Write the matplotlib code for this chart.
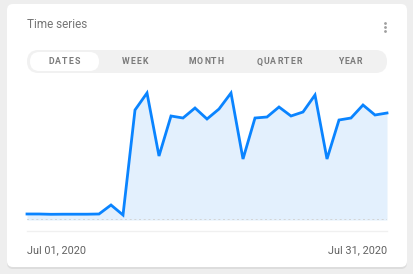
import matplotlib
matplotlib.use("Agg")
import matplotlib.pyplot as plt
from matplotlib.patches import FancyBboxPatch

# daily values for July 2020
days = list(range(1, 32))
values = [6, 6, 5.7, 5.8, 5.8, 5.8, 6, 15, 5, 110, 127, 64, 104, 102, 112, 101,
          111, 127, 61, 102, 103, 113, 104, 108, 125, 61, 100, 102, 115, 105, 107]
tabs = ["DATES", "WEEK", "MONTH", "QUARTER", "YEAR"]
selected_tab = "DATES"
title = "Time series"
start_label = "Jul 01, 2020"
end_label = "Jul 31, 2020"

W, H = 414, 274
plt.rcParams["font.family"] = ["Roboto", "DejaVu Sans"]

fig = plt.figure(figsize=(W / 100, H / 100), dpi=100)
fig.patch.set_facecolor("#eeeeee")

# overlay in pixel coordinates for the card chrome
bg = fig.add_axes([0, 0, 1, 1])
bg.set_xlim(0, W)
bg.set_ylim(H, 0)
bg.axis("off")

# card shadow + card
bg.add_patch(FancyBboxPatch((7, 5), 400, 264, boxstyle="round,pad=0,rounding_size=6",
                            fc="#dddddd", ec="none"))
bg.add_patch(FancyBboxPatch((7, 4), 400, 263, boxstyle="round,pad=0,rounding_size=6",
                            fc="white", ec="none"))

bg.text(27, 25, title, fontsize=8.5, color="#757575", va="center", ha="left")
for yy in (23, 27, 31):
    bg.plot(385, yy, marker="o", ms=2, color="#9e9e9e", mec="none")

# segmented control
bg.add_patch(FancyBboxPatch((27, 50), 360, 23, boxstyle="round,pad=0,rounding_size=11.5",
                            fc="#f1f1f1", ec="none"))
tab_x = [64, 135, 206, 279, 350]
tracking = 1.1  # px between letters
fig.canvas.draw()
renderer = fig.canvas.get_renderer()
for name, tx in zip(tabs, tab_x):
    if name == selected_tab:
        bg.add_patch(FancyBboxPatch((30, 52), 69, 19, boxstyle="round,pad=0,rounding_size=9.5",
                                    fc="white", ec="none"))
    # letter-spaced label: measure each glyph, then lay them out centred
    widths = []
    for ch in name:
        t = bg.text(0, 0, ch, fontsize=6.3, fontweight="bold")
        widths.append(t.get_window_extent(renderer).width)
        t.remove()
    total = sum(widths) + tracking * (len(name) - 1)
    x = tx - total / 2
    for ch, w in zip(name, widths):
        bg.text(x, 62, ch, fontsize=6.3, fontweight="bold", color="#7a7a7a",
                ha="left", va="center")
        x += w + tracking

# separator and date labels
bg.plot([27, 387], [231, 231], color="#f0f0f0", lw=1)
bg.text(27, 250, start_label, fontsize=7.8, color="#616161", ha="left", va="center")
bg.text(387, 250, end_label, fontsize=7.8, color="#616161", ha="right", va="center")

# chart area
ax = fig.add_axes([27 / W, 54 / H, 360 / W, 130 / H])
ax.patch.set_alpha(0)
ax.set_xlim(1, 31)
ax.set_ylim(0, 130)
ax.fill_between(days, values, 0, color="#e3f0fd", lw=0)
ax.plot(days, values, color="#0a84ff", lw=2, solid_joinstyle="miter", clip_on=False)
ax.axhline(0, color="#d0d0d0", lw=1.2, ls=(0, (1.2, 1.6)))
ax.axis("off")

fig.savefig("out.png", dpi=100, facecolor=fig.get_facecolor())
